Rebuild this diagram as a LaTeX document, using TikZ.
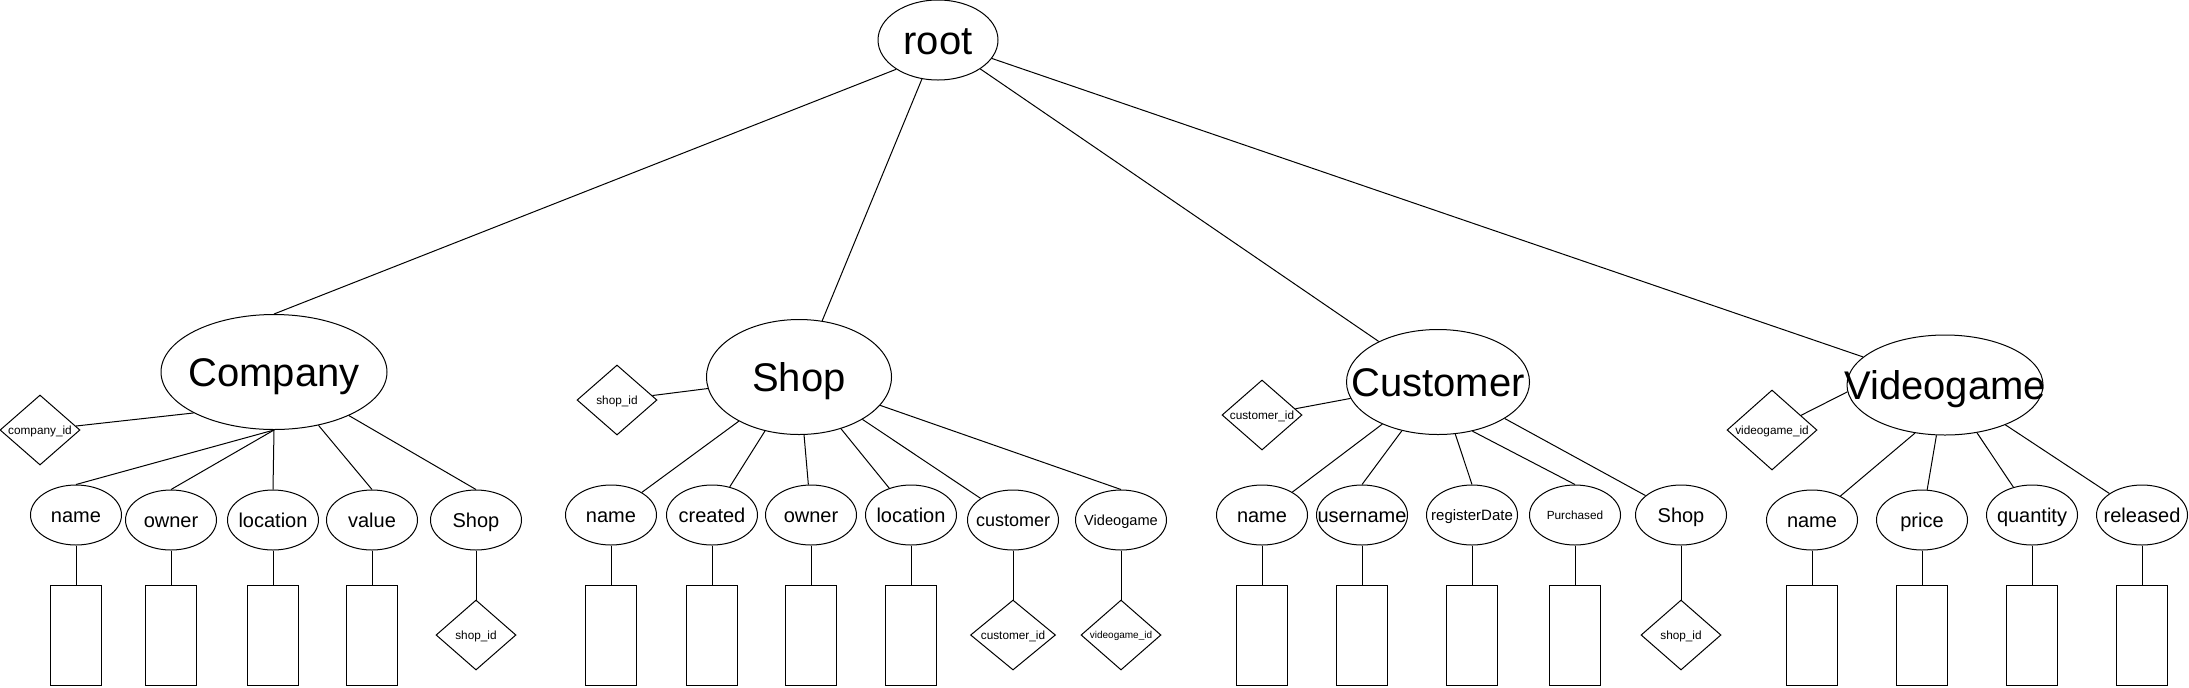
\documentclass[tikz,border=0pt]{standalone}
\usepackage{fontspec}
\setmainfont{Liberation Sans}
\usepackage{tikz}
\usetikzlibrary{shapes.geometric}

\newcommand{\ztext}[1]{\makebox[0pt]{\raisebox{0pt}[0.7em][0pt]{#1}}}

\begin{document}
\begin{tikzpicture}[
    x=0.5pt, y=-0.5pt,
    every node/.style={draw, inner sep=0pt, line width=0.5pt},
    entity_node/.style={ellipse, font=\fontsize{20}{24}\selectfont},
    attr_node/.style={ellipse, minimum width=45.5pt, minimum height=30pt, font=\fontsize{10}{12}\selectfont},
    key_node/.style={diamond, minimum width=40pt, minimum height=35pt, font=\fontsize{5.9}{7}\selectfont},
    value_box/.style={rectangle, minimum width=25.5pt, minimum height=50pt},
    link/.style={line width=0.5pt, color=black}
]
\useasboundingbox (0, 0) rectangle (2189, 687);

% Entidades
\node[entity_node, minimum width=60pt, minimum height=40pt] (root) at (938, 40) {\ztext{root}};
\node[entity_node, minimum width=113pt, minimum height=57.5pt] (company) at (274, 372) {\ztext{Company}};
\node[entity_node, minimum width=92.5pt, minimum height=57.5pt] (shop) at (799, 377) {\ztext{Shop}};
\node[entity_node, minimum width=91.5pt, minimum height=52.5pt] (customer) at (1438, 382) {\ztext{Customer}};
\node[entity_node, minimum width=98pt, minimum height=50pt] (videogame) at (1945, 385) {\ztext{Videogame}};

% Company
\node[key_node] (c_id) at (40, 430) {\ztext{company\_id}};
\node[attr_node] (c_name) at (76, 515) {\ztext{name}};
\node[attr_node] (c_owner) at (171, 520) {\ztext{owner}};
\node[attr_node] (c_location) at (273, 520) {\ztext{location}};
\node[attr_node] (c_value) at (372, 520) {\ztext{value}};
\node[attr_node] (c_shop) at (476, 520) {\ztext{Shop}};
\node[value_box] (c_name_box) at (76, 635) {};
\node[value_box] (c_owner_box) at (171, 635) {};
\node[value_box] (c_location_box) at (273, 635) {};
\node[value_box] (c_value_box) at (372, 635) {};
\node[key_node] (c_shop_box) at (476, 635) {\ztext{shop\_id}};

% Shop
\node[key_node] (s_id) at (617, 400) {\ztext{shop\_id}};
\node[attr_node] (s_name) at (611, 515) {\ztext{name}};
\node[attr_node] (s_created) at (712, 515) {\ztext{created}};
\node[attr_node] (s_owner) at (811, 515) {\ztext{owner}};
\node[attr_node] (s_location) at (911, 515) {\ztext{location}};
\node[attr_node, font=\fontsize{9}{11}\selectfont] (s_customer) at (1013, 520) {\ztext{customer}};
\node[attr_node, font=\fontsize{7.3}{9}\selectfont] (s_videogame) at (1121, 520) {\ztext{Videogame}};
\node[value_box] (s_name_box) at (611, 635) {};
\node[value_box] (s_created_box) at (712, 635) {};
\node[value_box] (s_owner_box) at (811, 635) {};
\node[value_box] (s_location_box) at (911, 635) {};
\node[key_node, minimum width=42.5pt] (s_customer_box) at (1013, 635) {\ztext{customer\_id}};
\node[key_node, font=\fontsize{5}{6}\selectfont] (s_videogame_box) at (1121, 635) {\ztext{videogame\_id}};

% Customer
\node[key_node] (cu_id) at (1262, 415) {\ztext{customer\_id}};
\node[attr_node] (cu_name) at (1262, 515) {\ztext{name}};
\node[attr_node] (cu_username) at (1362, 515) {\ztext{username}};
\node[attr_node, font=\fontsize{7.5}{9}\selectfont] (cu_register) at (1472, 515) {\ztext{registerDate}};
\node[attr_node, font=\fontsize{5.9}{7}\selectfont] (cu_purchased) at (1575, 515) {\ztext{Purchased}};
\node[attr_node] (cu_shop) at (1681, 515) {\ztext{Shop}};
\node[value_box] (cu_name_box) at (1262, 635) {};
\node[value_box] (cu_username_box) at (1362, 635) {};
\node[value_box] (cu_register_box) at (1472, 635) {};
\node[value_box] (cu_purchased_box) at (1575, 635) {};
\node[key_node] (cu_shop_box) at (1681, 635) {\ztext{shop\_id}};

% Videogame
\node[key_node, minimum width=45pt, minimum height=40pt] (v_id) at (1772, 430) {\ztext{videogame\_id}};
\node[attr_node] (v_name) at (1812, 520) {\ztext{name}};
\node[attr_node] (v_price) at (1922, 520) {\ztext{price}};
\node[attr_node] (v_quantity) at (2032, 515) {\ztext{quantity}};
\node[attr_node] (v_released) at (2142, 515) {\ztext{released}};
\node[value_box] (v_name_box) at (1812, 635) {};
\node[value_box] (v_price_box) at (1922, 635) {};
\node[value_box] (v_quantity_box) at (2032, 635) {};
\node[value_box] (v_released_box) at (2142, 635) {};

% Conexiones
\draw[link] (root.215) -- (company.north);
\draw[link] (root) -- (shop);
\draw[link] (root) -- (customer);
\draw[link] (root) -- (videogame);

\draw[link] (c_id) -- (company.207);
\draw[link] (company.south) -- (c_name.north);
\draw[link] (company.south) -- (c_owner.north);
\draw[link] (company.south) -- (c_location.north);
\draw[link] (company) -- (c_value.north);
\draw[link] (company) -- (c_shop.north);

\draw[link] (s_id) -- (shop);
\draw[link] (shop) -- (s_name);
\draw[link] (shop) -- (s_created);
\draw[link] (shop) -- (s_owner);
\draw[link] (shop) -- (s_location);
\draw[link] (shop) -- (s_customer);
\draw[link] (shop) -- (s_videogame.north);

\draw[link] (cu_id) -- (customer);
\draw[link] (customer) -- (cu_name);
\draw[link] (customer) -- (cu_username.north);
\draw[link] (customer) -- (cu_register.north);
\draw[link] (customer.-55) -- (cu_purchased.north);
\draw[link] (customer) -- (cu_shop);

\draw[link] (v_id) -- (videogame.184);
\draw[link] (videogame.238) -- (v_name);
\draw[link] (videogame) -- (v_price);
\draw[link] (videogame) -- (v_quantity);
\draw[link] (videogame) -- (v_released);

% Atributo -> valor
\foreach \a in {c_name, c_owner, c_location, c_value, c_shop,
    s_name, s_created, s_owner, s_location, s_customer, s_videogame,
    cu_name, cu_username, cu_register, cu_purchased, cu_shop,
    v_name, v_price, v_quantity, v_released}
    \draw[link] (\a) -- (\a_box);

\end{tikzpicture}
\end{document}
